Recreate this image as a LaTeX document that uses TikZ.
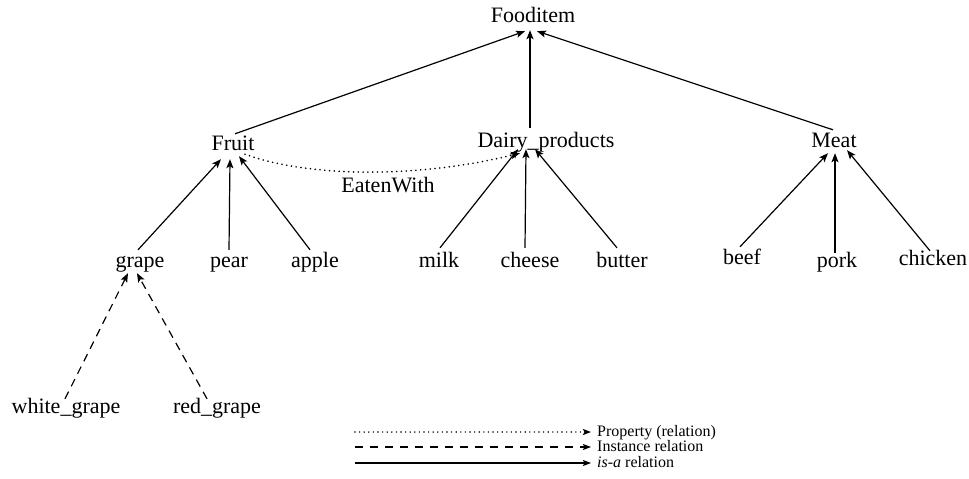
\documentclass[tikz,border=0pt]{standalone}
\usepackage{fontspec}
\setmainfont{Liberation Serif}
\usetikzlibrary{arrows.meta}
\begin{document}
\begin{tikzpicture}[x=1pt,y=-1pt,
  lbl/.style={inner sep=0pt,anchor=base,text height=16pt,text depth=6pt,font=\fontsize{22}{26}\selectfont},
  leg/.style={inner sep=0pt,anchor=west,text height=11pt,text depth=3pt,font=\fontsize{16}{19}\selectfont},
  tip/.style={-{Stealth[length=9pt,width=7pt,inset=2pt]}},
  isa/.style={tip,line width=1.2pt},
  inst/.style={tip,line width=1.2pt,dash pattern=on 8pt off 6pt},
  prop/.style={tip,line width=1.8pt,line cap=round,dash pattern=on 0pt off 4.8pt},
  legtip/.style={-{Stealth[length=8pt,width=6pt,inset=1.5pt]}}
]
\useasboundingbox (0,0) rectangle (969,479);
% nodes
\node[lbl] (food) at (533,23) {Fooditem};
\node[lbl] (fruit) at (233,150) {Fruit};
\node[lbl] (dairy) at (546,147) {Dairy\_products};
\node[lbl] (meat) at (834,147) {Meat};
\node[lbl] (grape) at (140,267) {grape};
\node[lbl] (pear) at (229,267) {pear};
\node[lbl] (apple) at (315,267) {apple};
\node[lbl] (milk) at (439,267) {milk};
\node[lbl] (cheese) at (530,267) {cheese};
\node[lbl] (butter) at (622,267) {butter};
\node[lbl] (beef) at (742,264) {beef};
\node[lbl] (pork) at (837,267) {pork};
\node[lbl] (chicken) at (933,265) {chicken};
\node[lbl] (white) at (66,413) {white\_grape};
\node[lbl] (red) at (217,413) {red\_grape};
\node[lbl] (eaten) at (388,192) {EatenWith};
% is-a to Fooditem
\draw[isa] ([xshift=2pt]fruit.north) -- ([xshift=-8pt,yshift=-2pt]food.south);
\draw[isa] ([xshift=-16pt,yshift=3pt]dairy.north) -- ([xshift=-3pt,yshift=-1pt]food.south);
\draw[isa] ([xshift=-1pt,yshift=1pt]meat.north) -- ([xshift=4pt,yshift=-2pt]food.south);
% Fruit
\draw[isa] ([xshift=-2pt,yshift=1pt]grape.north) -- ([xshift=-12pt,yshift=-3pt]fruit.south);
\draw[isa] ([xshift=0pt,yshift=1pt]pear.north) -- ([xshift=-3pt,yshift=-3pt]fruit.south);
\draw[isa] ([xshift=-5pt,yshift=1pt]apple.north) -- ([xshift=6pt,yshift=0pt]fruit.south);
% Dairy
\draw[isa] ([xshift=1pt,yshift=3pt]milk.north) -- ([xshift=-28pt,yshift=4pt]dairy.south);
\draw[isa] ([xshift=-5pt,yshift=3pt]cheese.north) -- ([xshift=-20pt,yshift=4pt]dairy.south);
\draw[isa] ([xshift=-5pt,yshift=3pt]butter.north) -- ([xshift=-11pt,yshift=4pt]dairy.south);
% Meat
\draw[isa] ([xshift=-2pt,yshift=1pt]beef.north) -- ([xshift=-6pt]meat.south);
\draw[isa] ([xshift=-2pt,yshift=-2pt]pork.north) -- ([xshift=1pt]meat.south);
\draw[isa] ([xshift=-3pt,yshift=-2pt]chicken.north) -- ([xshift=13pt,yshift=3pt]meat.south);
% instances
\draw[inst] ([xshift=-1pt,yshift=-2pt]white.north) -- ([xshift=-12pt]grape.south);
\draw[inst] ([xshift=-10pt,yshift=-2pt]red.north) -- ([xshift=-3pt]grape.south);
% property
\draw[prop] ([xshift=12pt,yshift=2pt]fruit.south) .. controls (310,178) and (420,178) .. ([xshift=-26pt]dairy.south);
% legend
\node[leg] (lp) at (597,432) {Property (relation)};
\node[leg] (li) at (597,447) {Instance relation};
\node[leg] (la) at (597,463) {\textit{is-a} relation};
\coordinate (sp) at (355,432);
\coordinate (si) at (355,447);
\coordinate (sa) at (355,463);
\draw[legtip,line width=1.6pt,line cap=round,dash pattern=on 0pt off 4.6pt] (sp) -- ([xshift=-6pt]lp.west);
\draw[legtip,line width=1.2pt,dash pattern=on 8pt off 7pt] (si) -- ([xshift=-6pt]li.west);
\draw[legtip,line width=1.2pt] (sa) -- ([xshift=-6pt]la.west);
\end{tikzpicture}
\end{document}
